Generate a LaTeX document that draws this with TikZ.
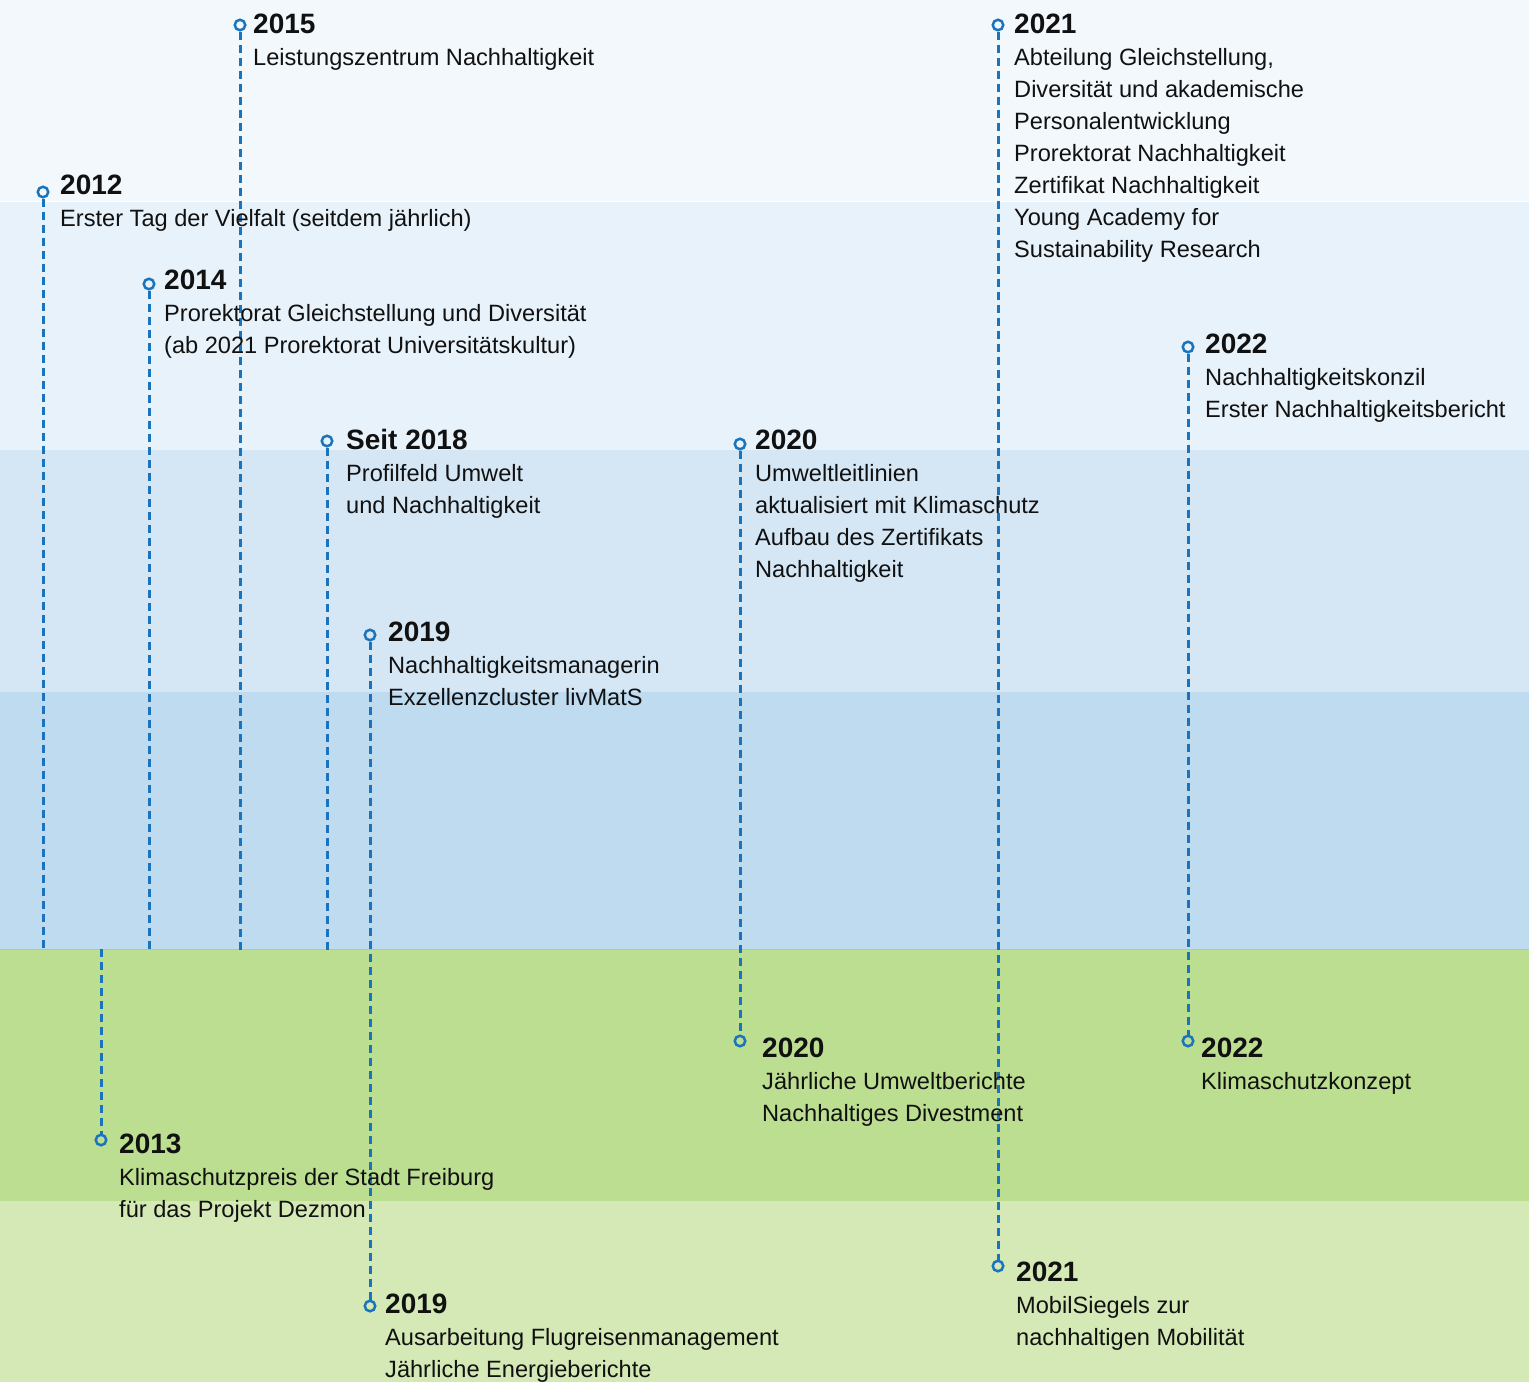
\documentclass[tikz,border=0pt]{standalone}
\usepackage{fontspec}
\setmainfont{Liberation Sans}
\definecolor{bandA}{HTML}{F3F8FC}
\definecolor{bandB}{HTML}{E8F2FA}
\definecolor{bandC}{HTML}{D5E6F5}
\definecolor{bandD}{HTML}{BFDBF0}
\definecolor{bandE}{HTML}{BCDE91}
\definecolor{bandF}{HTML}{D4E9B5}
\definecolor{lineblue}{HTML}{1A73BD}
\definecolor{txt}{HTML}{111111}
\tikzset{
  dl/.style={draw=lineblue, line width=3pt, dash pattern=on 8pt off 5pt},
  dot/.style={circle, draw=lineblue, line width=2.5pt, minimum size=10.5pt, inner sep=0pt},
  yr/.style={anchor=base west, inner sep=0pt, font=\fontsize{28}{32}\selectfont\bfseries, text=txt},
  bd/.style={anchor=base west, inner sep=0pt, font=\fontsize{23.6}{32}\selectfont, text=txt},
}
\newcommand\evt[5]{%
  \node[yr] (#1y) at (#2,#3) {#4};
  \foreach \ln [count=\i] in {#5} {\node[bd] (#1l\i) at (#2,#3+32*\i) {\ln};}
}
\begin{document}
\begin{tikzpicture}[x=1pt,y=-1pt]
\useasboundingbox (0,0) rectangle (1529,1382);
% bands
\fill[bandA] (0,0) rectangle (1529,201);
\fill[bandB] (0,201) rectangle (1529,450);
\fill[bandC] (0,450) rectangle (1529,692);
\fill[bandD] (0,692) rectangle (1529,949);
\fill[bandE] (0,949) rectangle (1529,1201);
\fill[bandF] (0,1201) rectangle (1529,1382);
\draw[white, line width=1pt] (0,201) -- (1529,201);
\draw[bandD!70!bandE!90!black, line width=1pt] (0,949) -- (1529,949);

% circles
\node[dot] (c12) at (43,192) {};
\node[dot] (c14) at (149,284) {};
\node[dot] (c15) at (240,25) {};
\node[dot] (c18) at (327,441) {};
\node[dot] (c19a) at (370,635) {};
\node[dot] (c20a) at (740,444) {};
\node[dot] (c21a) at (998,25) {};
\node[dot] (c22a) at (1188,347) {};
\node[dot] (c20b) at (740,1041) {};
\node[dot] (c22b) at (1188,1041) {};
\node[dot] (c13) at (101,1140) {};
\node[dot] (c19b) at (370,1306) {};
\node[dot] (c21b) at (998,1266) {};

% free ends
\coordinate (e12) at (43,951);
\coordinate (e14) at (149,951);
\coordinate (e15) at (240,951);
\coordinate (e18) at (327,951);
\coordinate (s13) at (101,949);

% connectors
\draw[dl] (c12.south) -- (e12);
\draw[dl] (c14.south) -- (e14);
\draw[dl] (c15.south) -- (e15);
\draw[dl] (c18.south) -- (e18);
\draw[dl] (c19a.south) -- (c19b.north);
\draw[dl] (c20a.south) -- (c20b.north);
\draw[dl] (c21a.south) -- (c21b.north);
\draw[dl] (c22a.south) -- (c22b.north);
\draw[dl] (s13) -- (c13.north);

% texts
\evt{t15}{253}{33.5}{2015}{Leistungszentrum Nachhaltigkeit}
\evt{t12}{60}{194.5}{2012}{Erster Tag der Vielfalt (seitdem jährlich)}
\evt{t14}{164}{289.5}{2014}{Prorektorat Gleichstellung und Diversität,(ab 2021 Prorektorat Universitätskultur)}
\evt{t18}{346}{449}{Seit 2018}{Profilfeld Umwelt,und Nachhaltigkeit}
\evt{t19a}{388}{641.5}{2019}{Nachhaltigkeitsmanagerin,Exzellenzcluster livMatS}
\evt{t20a}{755}{449.5}{2020}{Umweltleitlinien,aktualisiert mit Klimaschutz,Aufbau des Zertifikats,Nachhaltigkeit}
\evt{t21a}{1014}{33.5}{2021}{{Abteilung Gleichstellung,},Diversität und akademische,Personalentwicklung,Prorektorat Nachhaltigkeit,Zertifikat Nachhaltigkeit,Young Academy for,Sustainability Research}
\evt{t22a}{1205}{353}{2022}{Nachhaltigkeitskonzil,Erster Nachhaltigkeitsbericht}
\evt{t20b}{762}{1057}{2020}{Jährliche Umweltberichte,Nachhaltiges Divestment}
\evt{t22b}{1201}{1057.5}{2022}{Klimaschutzkonzept}
\evt{t13}{119}{1153.5}{2013}{Klimaschutzpreis der Stadt Freiburg,für das Projekt Dezmon}
\evt{t19b}{385}{1313}{2019}{Ausarbeitung Flugreisenmanagement,Jährliche Energieberichte}
\evt{t21b}{1016}{1281}{2021}{MobilSiegels zur,nachhaltigen Mobilität}
\end{tikzpicture}
\end{document}
